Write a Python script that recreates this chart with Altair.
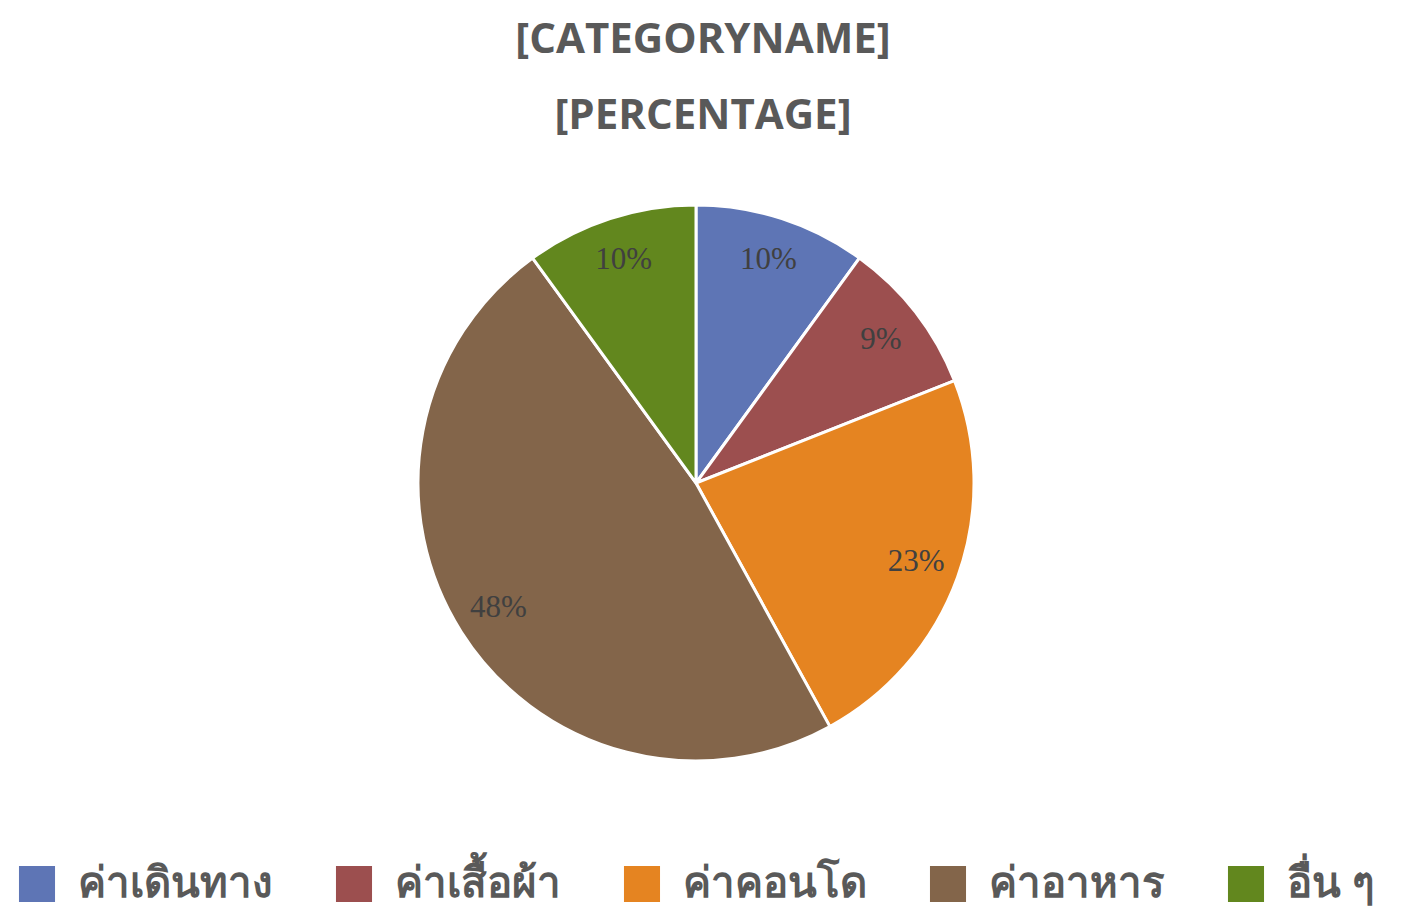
import altair as alt
import pandas as pd

categories = ["ค่าเดินทาง", "ค่าเสื้อผ้า", "ค่าคอนโด", "ค่าอาหาร", "อื่น ๆ"]
values = [10, 9, 23, 48, 10]
colors = ["#5E75B5", "#9C4F4F", "#E58421", "#83654A", "#62871E"]
title_lines = ["[CATEGORYNAME]", "[PERCENTAGE]"]

df = pd.DataFrame({"category": categories, "value": values, "order": list(range(len(categories)))})
df["label"] = [f"{v}%" for v in values]

W, H = 1390, 904
CX, CY = 688, 475
R = 278

base = alt.Chart(df).encode(
    theta=alt.Theta("value:Q", stack=True),
    order=alt.Order("order:Q"),
)

color = alt.Color(
    "category:N",
    scale=alt.Scale(domain=categories, range=colors),
    sort=categories,
    legend=alt.Legend(
        title=None,
        orient="none",
        direction="horizontal",
        legendX=8,
        legendY=855,
        symbolType="square",
        symbolSize=1300,
        symbolStrokeWidth=0,
        symbolOpacity=1,
        labelFontSize=42,
        labelFont="Noto Sans",
        labelFontWeight="bold",
        labelColor="#595959",
        labelLimit=400,
        columnPadding=60,
        symbolOffset=0,
        labelOffset=20,
    ),
)

arcs = base.mark_arc(outerRadius=R, stroke="white", strokeWidth=3).encode(
    color=color,
    x=alt.value(CX),
    y=alt.value(CY),
)

labels = base.mark_text(radius=234, fontSize=31, font="Liberation Serif", color="#404040").encode(
    text="label:N",
    x=alt.value(CX),
    y=alt.value(CY),
)

chart = alt.layer(arcs, labels).properties(
    width=W,
    height=H,
    autosize=alt.AutoSizeParams(type="none"),
    padding=0,
    title=alt.TitleParams(
        text=title_lines,
        fontSize=42,
        font="Open Sans",
        fontWeight="bold",
        color="#595959",
        lineHeight=76,
        anchor="middle",
        offset=-130,
    ),
).configure_view(stroke=None)

chart.save("out.html", embed_options={"renderer": "svg", "actions": False})
